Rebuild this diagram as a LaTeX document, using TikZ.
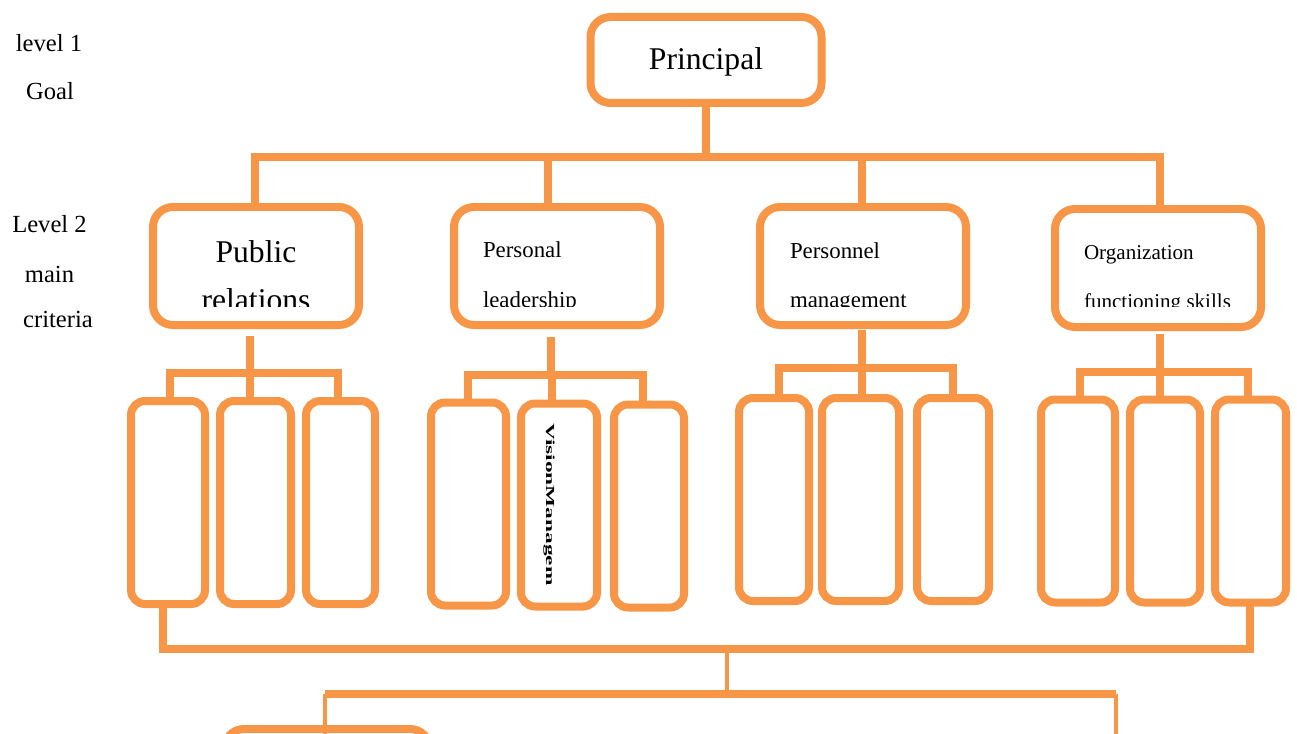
\documentclass[tikz,border=0pt]{standalone}
\usepackage{fontspec}
\setmainfont{Liberation Serif}
\definecolor{hierorange}{HTML}{F79646}

\begin{document}
\begin{tikzpicture}[x=0.02cm, y=-0.02cm,
		every node/.style={inner sep=0pt, outer sep=0pt},
		bigbox/.style={draw=hierorange, line width=0.16cm, rounded corners=0.4cm, fill=white},
		subbox/.style={draw=hierorange, line width=0.16cm, rounded corners=0.28cm, fill=white, minimum height=203*0.02cm},
		link/.style={draw=hierorange, line width=0.16cm},
		thinlink/.style={draw=hierorange, line width=0.08cm},
		lvl/.style={anchor=base, font=\fontsize{14}{14}\selectfont}]
		\clip (0,0) rectangle (1297,733);

		% levels
		\node[lvl] (lv1) at (49,52) {level 1};
		\node[lvl] (lv1goal) at (50,100) {Goal};
		\node[lvl] (lv2) at (49.5,233) {Level 2};
		\node[lvl] (lv2main) at (49.5,282) {main};
		\node[lvl] (lv2crit) at (58,327) {criteria};

		% goal and main criteria
		\node[bigbox, minimum width=231*0.02cm, minimum height=86*0.02cm] (goal) at (706,60) {};
		\node[anchor=base, font=\fontsize{18}{18}\selectfont] (goal-t) at (706,70) {Principal};
		\node[bigbox, minimum width=206*0.02cm, minimum height=118*0.02cm] (pr) at (256,266) {};
		\node[bigbox, minimum width=206*0.02cm, minimum height=118*0.02cm] (pl) at (557,266) {};
		\node[bigbox, minimum width=206*0.02cm, minimum height=118*0.02cm] (pm) at (863,266) {};
		\node[bigbox, minimum width=206*0.02cm, minimum height=118*0.02cm] (or) at (1158,268) {};

		\node[anchor=base, font=\fontsize{18}{18}\selectfont] (pr-t1) at (256,262) {Public};
		\node[anchor=base west, font=\fontsize{13}{13}\selectfont] (pl-t1) at (483,257) {Personal};
		\node[anchor=base west, font=\fontsize{13}{13}\selectfont] (pm-t1) at (790,258) {Personnel};
		\node[anchor=base west, font=\fontsize{12}{12}\selectfont] (or-t1) at (1084,259) {Organization};
		\begin{scope}
			\clip (140,280) rectangle (1280,306);
			\node[anchor=base, font=\fontsize{18}{18}\selectfont] (pr-t2) at (256,310) {relations};
			\node[anchor=base west, font=\fontsize{13}{13}\selectfont] (pl-t2) at (483,307) {leadership};
			\node[anchor=base west, font=\fontsize{13}{13}\selectfont] (pm-t2) at (790,307) {management};
			\node[anchor=base west, font=\fontsize{12}{12}\selectfont] (or-t2) at (1084,308) {functioning skills};
		\end{scope}

		% sub criteria
		\node[subbox, minimum width=74*0.02cm] (pr1) at (168,502.5) {};
		\node[subbox, minimum width=71*0.02cm] (pr2) at (255.5,502.5) {};
		\node[subbox, minimum width=69*0.02cm] (pr3) at (340.5,502.5) {};
		\node[subbox, minimum width=75*0.02cm] (pl1) at (468.5,504) {};
		\node[subbox, minimum width=76*0.02cm] (pl2) at (559,505) {};
		\node[subbox, minimum width=70*0.02cm] (pl3) at (649,506) {};
		\node[subbox, minimum width=70*0.02cm] (pm1) at (774,499.5) {};
		\node[subbox, minimum width=77*0.02cm] (pm2) at (860.5,499.5) {};
		\node[subbox, minimum width=72*0.02cm] (pm3) at (953,499.5) {};
		\node[subbox, minimum width=74*0.02cm] (or1) at (1078,501) {};
		\node[subbox, minimum width=70*0.02cm] (or2) at (1165,501) {};
		\node[subbox, minimum width=71*0.02cm] (or3) at (1250.5,501) {};
		\node[anchor=west, rotate=-90, xscale=1.9, font=\bfseries\fontsize{7}{7}\selectfont] (pl2-t) at (549,423) {VisionManagem};

		\node[bigbox, minimum width=206*0.02cm, minimum height=118*0.02cm] (alt1) at (327,788) {};

		% goal to criteria
		\coordinate (busL) at (255,157);
		\coordinate (busR) at (1160,157);
		\coordinate (bus2) at (548,157);
		\coordinate (bus3) at (862,157);
		\draw[link] (goal) -- (goal |- busL);
		\draw[link] (busL |- pr.north) -- (busL) -- (busR) -- (busR |- or.north);
		\draw[link] (bus2) -- (bus2 |- pl.north);
		\draw[link] (bus3) -- (bus3 |- pm.north);

		% criteria to sub criteria
		\foreach \g/\sx/\sy/\by/\a/\b/\c in {pr/250/336/373/170/250/338, pl/551/337/375/468/552/643,
			pm/862/330/368/779/862/953, or/1160/334/372/1080/1160/1248} {
			\coordinate (\g-top) at (\sx,\sy);
			\coordinate (\g-bar) at (\sx,\by);
			\coordinate (\g-a) at (\a,\by);
			\coordinate (\g-b) at (\b,\by);
			\coordinate (\g-c) at (\c,\by);
			\draw[link] (\g-top) -- (\g-bar);
			\draw[link] (\g-a |- \g1.north) -- (\g-a) -- (\g-c) -- (\g-c |- \g3.north);
			\draw[link] (\g-b) -- (\g-b |- \g2.north);
		}

		% sub criteria to alternatives
		\coordinate (botL) at (163,649);
		\coordinate (botR) at (1250,649);
		\coordinate (botmid) at (727,649);
		\coordinate (lowmid) at (727,694);
		\coordinate (lowL) at (325,694);
		\coordinate (lowR) at (1116,694);
		\coordinate (alt2) at (1116,745);
		\draw[link] (botL |- pr1.south) -- (botL) -- (botR) -- (botR |- or3.south);
		\draw[thinlink] (botmid) -- (lowmid);
		\draw[link] (lowL) -- (lowR);
		\draw[thinlink] (lowL) -- (lowL |- alt1.south);
		\draw[thinlink] (lowR) -- (alt2);
\end{tikzpicture}
\end{document}
